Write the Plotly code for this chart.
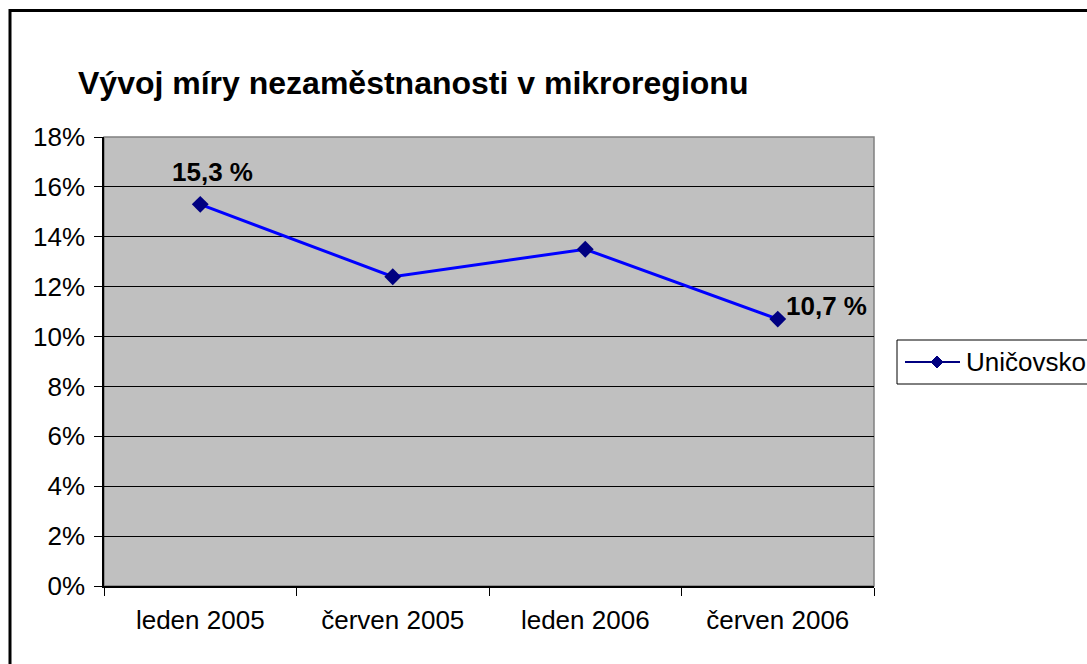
import plotly.graph_objects as go

# ---- data ----
categories = ["leden 2005", "červen 2005", "leden 2006", "červen 2006"]
values = [0.153, 0.124, 0.135, 0.107]
point_labels = ["15,3 %", "", "", "10,7 %"]
series_name = "Uničovsko"
title_text = "Vývoj míry nezaměstnanosti v mikroregionu"
y_tick_vals = [0, 0.02, 0.04, 0.06, 0.08, 0.10, 0.12, 0.14, 0.16, 0.18]

W, H = 1087, 664
L, R, T, B = 104, 874, 137, 586  # plot area in px
FONT = "Arial, 'Liberation Sans', sans-serif"


def px_x(px):
    return (px - L) / (R - L)


def px_y(py):
    return (B - py) / (B - T)


fig = go.Figure()
fig.add_trace(go.Scatter(
    x=categories, y=values, mode="lines+markers", name=series_name,
    line=dict(color="#0000FF", width=3),
    marker=dict(symbol="diamond", color="#000080", size=13),
    showlegend=False, hoverinfo="skip",
))

annotations = []
# data labels
for i, (c, v, t) in enumerate(zip(categories, values, point_labels)):
    if not t:
        continue
    if i == 0:
        annotations.append(dict(x=c, y=v, text=f"<b>{t}</b>", showarrow=False,
                                xanchor="center", yanchor="bottom", xshift=12, yshift=15,
                                font=dict(family=FONT, size=26, color="black")))
    else:
        annotations.append(dict(x=c, y=v, text=f"<b>{t}</b>", showarrow=False,
                                xanchor="left", yanchor="middle", xshift=6, yshift=13,
                                font=dict(family=FONT, size=26, color="black")))

# manual legend text
annotations.append(dict(xref="paper", yref="paper", x=px_x(964), y=px_y(362),
                        text=series_name, showarrow=False, xanchor="left", yanchor="middle",
                        font=dict(family=FONT, size=26, color="black")))

shapes = [
    # outer chart border (extends past page edges)
    dict(type="rect", xref="paper", yref="paper", x0=px_x(10), x1=px_x(1110),
         y0=px_y(690), y1=px_y(10.5), line=dict(color="black", width=3), layer="above"),
    # plot area outline (gray)
    dict(type="rect", xref="paper", yref="paper", x0=0, x1=1, y0=0, y1=1,
         line=dict(color="#808080", width=1.5), layer="below"),
    # legend box
    dict(type="rect", xref="paper", yref="paper", x0=px_x(897), x1=px_x(1120),
         y0=px_y(384), y1=px_y(340), line=dict(color="black", width=1), fillcolor="white"),
    # legend line
    dict(type="line", xref="paper", yref="paper", x0=px_x(905), x1=px_x(960),
         y0=px_y(362), y1=px_y(362), line=dict(color="#000080", width=2)),
    # legend diamond
    dict(type="path", xref="paper", yref="paper",
         path=(f"M {px_x(931)} {px_y(362)} L {px_x(937)} {px_y(356)} "
               f"L {px_x(943)} {px_y(362)} L {px_x(937)} {px_y(368)} Z"),
         fillcolor="#000080", line=dict(color="#000080", width=1)),
]

fig.update_layout(
    width=W, height=H,
    margin=dict(l=L, r=W - R, t=T, b=H - B, pad=0, autoexpand=False),
    paper_bgcolor="white", plot_bgcolor="#C0C0C0",
    title=dict(text=f"<b>{title_text}</b>", x=78 / W, xanchor="left", xref="container",
               y=1 - 83 / H, yanchor="middle", yref="container",
               font=dict(family=FONT, size=32, color="black")),
    font=dict(family=FONT, size=26, color="black"),
    annotations=annotations, shapes=shapes,
    xaxis=dict(type="category", range=[-0.5, 3.5], tickson="boundaries",
               ticks="outside", ticklen=8, tickcolor="black", tickwidth=1,
               showline=True, linecolor="black", linewidth=1.5, showgrid=False,
               zeroline=False, ticklabelstandoff=10,
               tickfont=dict(family=FONT, size=26, color="black")),
    yaxis=dict(range=[0, 0.18], tickvals=y_tick_vals, tickformat=".0%",
               ticks="outside", ticklen=8, tickcolor="black", tickwidth=1,
               showline=True, linecolor="black", linewidth=1.5,
               showgrid=True, gridcolor="black", gridwidth=1, zeroline=False,
               ticklabelstandoff=4,
               tickfont=dict(family=FONT, size=26, color="black")),
)

fig.write_html("out.html", config={"displayModeBar": False},
               post_script="document.body.style.margin='0';document.body.style.overflow='hidden';")
